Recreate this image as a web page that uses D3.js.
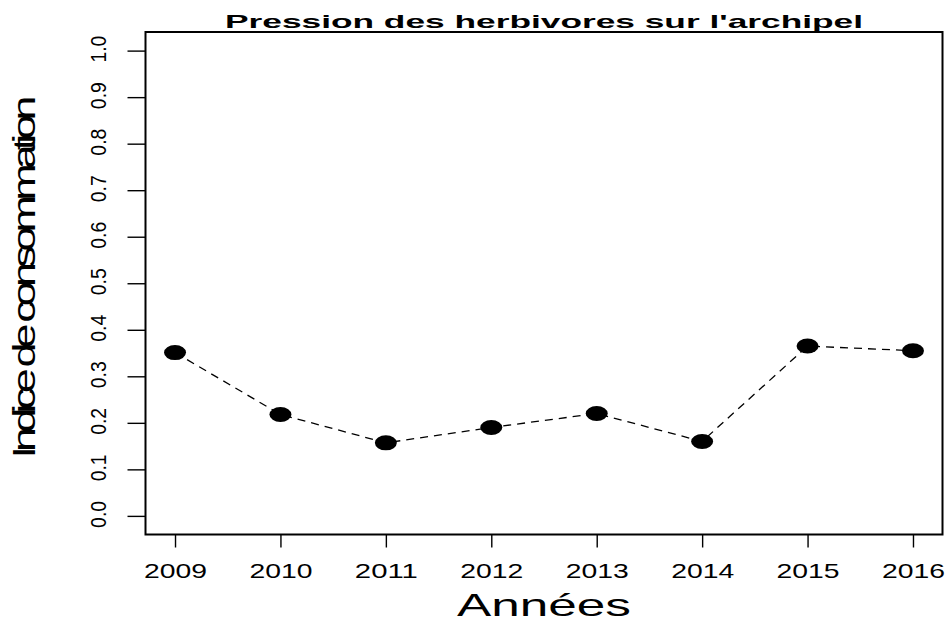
<!DOCTYPE html>
<html>
<head>
<meta charset="utf-8">
<script src="https://cdn.jsdelivr.net/npm/d3@7"></script>
<style>
  body { margin: 0; background: #fff; }
  text { font-family: "Liberation Sans", Arial, sans-serif; fill: #000; }
</style>
</head>
<body>
<div id="chart"></div>
<script>
// data
var years = [2009, 2010, 2011, 2012, 2013, 2014, 2015, 2016];
var indice = [0.351, 0.218, 0.157, 0.190, 0.220, 0.160, 0.365, 0.355];
var yTicks = [0.0, 0.1, 0.2, 0.3, 0.4, 0.5, 0.6, 0.7, 0.8, 0.9, 1.0];

var titre = "Pression des herbivores sur l'archipel";
var xLabel = "Années";
var yLabel = "Indice de consommation";

// plot box
var W = 948, H = 622;
var box = {left: 145.5, right: 942.5, top: 32, bottom: 534.5};

var svg = d3.select("#chart").append("svg")
    .attr("width", W)
    .attr("height", H);

// R style: range padded by 4% on each side
var xr = d3.max(years) - d3.min(years);
var x = d3.scaleLinear()
    .domain([d3.min(years) - 0.04 * xr, d3.max(years) + 0.04 * xr])
    .range([box.left, box.right]);
var y = d3.scaleLinear()
    .domain([-0.04, 1.04])
    .range([box.bottom, box.top]);

// x axis ticks and labels
var xAxis = svg.append("g")
    .attr("transform", "translate(0," + box.bottom + ")")
    .call(d3.axisBottom(x).tickValues(years).tickSize(13).tickPadding(0).tickFormat(d3.format("d")));
xAxis.select(".domain").remove();
xAxis.selectAll("line").attr("stroke", "#000").attr("stroke-width", 1.4);
xAxis.selectAll("text")
    .attr("y", 43)
    .attr("dy", null)
    .attr("font-size", 21)
    .attr("textLength", 63)
    .attr("lengthAdjust", "spacingAndGlyphs");

// y axis ticks, labels rotated like R's default las
var yAxis = svg.append("g")
    .attr("transform", "translate(" + box.left + ",0)")
    .call(d3.axisLeft(y).tickValues(yTicks).tickSize(18).tickFormat(d3.format(".1f")));
yAxis.select(".domain").remove();
yAxis.selectAll("line").attr("stroke", "#000").attr("stroke-width", 1.4);
yAxis.selectAll("text")
    .attr("x", null).attr("dy", null)
    .attr("text-anchor", "middle")
    .attr("font-size", 22)
    .attr("textLength", 27)
    .attr("lengthAdjust", "spacingAndGlyphs")
    .attr("transform", "translate(-40,-2) rotate(-90)");

// dashed line through the points
var ligne = d3.line()
    .x(function(d, i) { return x(years[i]); })
    .y(function(d) { return y(d); });

svg.append("path")
    .datum(indice)
    .attr("d", ligne)
    .attr("fill", "none")
    .attr("stroke", "#000")
    .attr("stroke-width", 1.3)
    .attr("stroke-dasharray", "8,6");

svg.selectAll(".pt")
    .data(indice)
  .enter().append("ellipse")
    .attr("class", "pt")
    .attr("cx", function(d, i) { return x(years[i]); })
    .attr("cy", function(d) { return y(d); })
    .attr("rx", 11)
    .attr("ry", 7.5)
    .attr("fill", "#000");

// frame
svg.append("rect")
    .attr("x", box.left)
    .attr("y", box.top)
    .attr("width", box.right - box.left)
    .attr("height", box.bottom - box.top)
    .attr("fill", "none")
    .attr("stroke", "#000")
    .attr("stroke-width", 2);

// title
svg.append("text")
    .attr("x", (box.left + box.right) / 2)
    .attr("y", 28)
    .attr("text-anchor", "middle")
    .attr("font-size", 19)
    .attr("font-weight", "bold")
    .attr("textLength", 638)
    .attr("lengthAdjust", "spacingAndGlyphs")
    .text(titre);

// x axis label
svg.append("text")
    .attr("x", 544)
    .attr("y", 616)
    .attr("text-anchor", "middle")
    .attr("font-size", 32)
    .attr("textLength", 174)
    .attr("lengthAdjust", "spacingAndGlyphs")
    .text(xLabel);

// y axis label (squeezed, letters overlap as in the original)
svg.append("text")
    .attr("transform", "translate(35,277) rotate(-90) scale(1.45,1)")
    .attr("text-anchor", "middle")
    .attr("font-size", 31)
    .attr("textLength", 363 / 1.45)
    .attr("lengthAdjust", "spacing")
    .text(yLabel);
</script>
</body>
</html>
